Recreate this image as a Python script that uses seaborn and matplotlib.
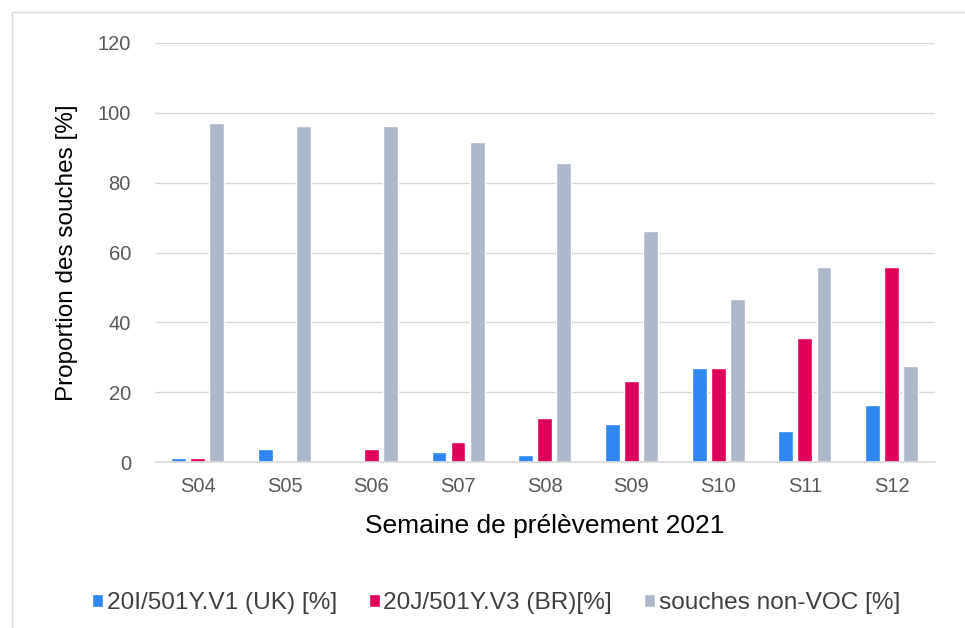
import matplotlib
matplotlib.use("Agg")
from matplotlib import pyplot as plt
from matplotlib.patches import Rectangle
import pandas as pd
import seaborn as sns

weeks = ["S04", "S05", "S06", "S07", "S08", "S09", "S10", "S11", "S12"]
uk = [1.1, 3.8, 0.0, 2.9, 2.0, 10.8, 26.9, 8.8, 16.3]
br = [1.1, 0.0, 3.8, 5.7, 12.7, 23.3, 26.9, 35.5, 55.9]
non_voc = [97.1, 96.3, 96.3, 91.7, 85.7, 66.2, 46.7, 55.9, 27.6]
series = ["20I/501Y.V1 (UK) [%]", "20J/501Y.V3 (BR)[%]", "souches non-VOC [%]"]
colors = ["#2E87F2", "#DF005A", "#ADB9CA"]

df = pd.DataFrame({"week": weeks * 3,
                   "value": uk + br + non_voc,
                   "series": [series[0]] * 9 + [series[1]] * 9 + [series[2]] * 9})

sns.set_theme(style="white")
plt.rcParams['font.family'] = ['Liberation Sans', 'DejaVu Sans']

fig = plt.figure(figsize=(9.65, 6.28), dpi=100)
ax = fig.add_axes([154.5 / 965, 166 / 628, 780.5 / 965, 419 / 628])

sns.barplot(data=df, x="week", y="value", hue="series", palette=colors,
            saturation=1, width=0.66, gap=0.22, ax=ax, legend=True)

ax.set_xlim(-0.5, len(weeks) - 0.5)
ax.set_ylim(0, 120)
ax.set_yticks(range(0, 121, 20))
ax.yaxis.grid(True, color="#D9D9D9", linewidth=1)
ax.set_axisbelow(True)
for s in ["top", "right", "left"]:
    ax.spines[s].set_visible(False)
ax.spines["bottom"].set_color("#D9D9D9")
ax.spines["bottom"].set_linewidth(1.2)
ax.tick_params(axis="both", colors="#595959", labelsize=14.5, length=0)
ax.tick_params(axis="y", pad=17)
ax.tick_params(axis="x", pad=11)
ax.set_xlabel("Semaine de prélèvement 2021", fontsize=19, color="#000000", labelpad=13)
ax.set_ylabel("Proportion des souches [%]", fontsize=17.5, color="#000000", labelpad=14)

leg = ax.legend(loc="center left", bbox_to_anchor=(92 / 965, 25 / 628),
                bbox_transform=fig.transFigure, ncol=3, frameon=False,
                fontsize=17.6, handlelength=0.45, handleheight=0.45,
                handletextpad=0.15, columnspacing=1.3, borderpad=0,
                borderaxespad=0)
for t in leg.get_texts():
    t.set_color("#404040")

fig.patches.append(Rectangle((11.5 / 965, -0.1), 1.2, 1 - 11.5 / 628 + 0.1,
                             transform=fig.transFigure, fill=False,
                             edgecolor="#D9D9D9", linewidth=1))

fig.savefig("out.png", dpi=100)
